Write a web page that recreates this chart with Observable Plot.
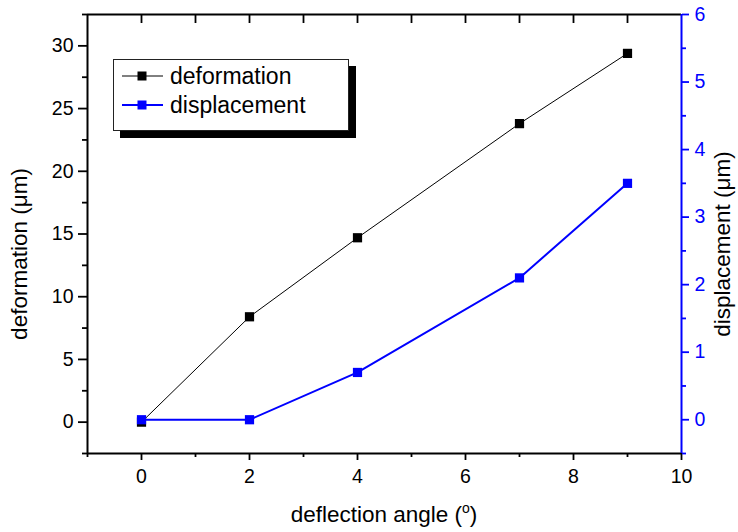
<!DOCTYPE html>
<html><head><meta charset="utf-8">
<script src="https://cdn.jsdelivr.net/npm/d3@7"></script>
<script src="https://cdn.jsdelivr.net/npm/@observablehq/plot@0.6"></script>
<style>
body{margin:0;background:#fff;}
#wrap{position:relative;width:738px;height:532px;}
#wrap svg{position:absolute;left:0;top:0;}
</style></head><body><div id="wrap"></div>
<script>
const angles = [0, 2, 4, 7, 9];
const deformation = [0, 8.4, 14.7, 23.8, 29.4];
const displacement = [0, 0, 0.7, 2.1, 3.5];
const xDomain = [-1, 10];
const yLeftDomain = [-2.5, 32.5];
const yRightDomain = [-0.5, 6];
const xTicks = [0, 2, 4, 6, 8, 10];
const xMinorTicks = [-1, 1, 3, 5, 7, 9];
const topTicks = [0, 1, 2, 3, 4, 5, 6, 7, 8, 9];
const leftTicks = [0, 5, 10, 15, 20, 25, 30];
const leftMinorTicks = [-2.5, 2.5, 7.5, 12.5, 17.5, 22.5, 27.5, 32.5];
const rightTicks = [0, 1, 2, 3, 4, 5, 6];
const rightMinorTicks = [-0.5, 0.5, 1.5, 2.5, 3.5, 4.5, 5.5];
const seriesNames = ["deformation", "displacement"];
const xTitle = "deflection angle (";
const yLeftTitle = "deformation (μm)";
const yRightTitle = "displacement (μm)";

const FONT = "Arial, 'Liberation Sans', sans-serif";
const BLUE = "#0000ff";
const W = 738, H = 532, mL = 87, mR = 57, mT = 14, mB = 79;
const innerH = H - mT - mB;
const intFmt = d => String(d);

const defData = angles.map((a, i) => ({angle: a, value: deformation[i]}));
const dispData = angles.map((a, i) => ({angle: a, value: displacement[i]}));

const common = {
  width: W, height: H, marginLeft: mL, marginRight: mR, marginTop: mT, marginBottom: mB,
  style: {fontFamily: FONT, fontSize: "19.5px", background: "transparent", overflow: "visible", color: "black"}
};

const p1 = Plot.plot({
  ...common,
  x: {domain: xDomain},
  y: {domain: yLeftDomain},
  marks: [
    Plot.axisY({ticks: leftTicks, tickSize: 9, tickPadding: 5, tickFormat: intFmt, label: null, strokeWidth: 1.8, fontSize: 19.5}),
    Plot.axisY(leftMinorTicks, {tickSize: 5, tickFormat: () => "", label: null, strokeWidth: 1.8}),
    Plot.axisX({ticks: xTicks, tickSize: 7, tickPadding: 9, tickFormat: intFmt, label: null, strokeWidth: 1.8, fontSize: 19.5}),
    Plot.axisX(xMinorTicks, {tickSize: 4, tickFormat: () => "", label: null, strokeWidth: 1.8}),
    Plot.ruleX(topTicks, {insetBottom: innerH - 9, strokeWidth: 1.8}),
    Plot.ruleX([xDomain[0]], {strokeWidth: 2}),
    Plot.ruleY([yLeftDomain[0]], {strokeWidth: 2}),
    Plot.ruleY([yLeftDomain[1]], {strokeWidth: 2}),
    Plot.line(defData, {x: "angle", y: "value", stroke: "black", strokeWidth: 1}),
    Plot.dot(defData, {x: "angle", y: "value", symbol: "square", r: 5.2, fill: "black", stroke: "none"})
  ]
});

const p2 = Plot.plot({
  ...common,
  x: {domain: xDomain, axis: null},
  y: {domain: yRightDomain},
  marks: [
    Plot.axisY({anchor: "right", ticks: rightTicks, tickSize: 7, tickPadding: 6, tickFormat: intFmt, label: null, stroke: BLUE, fill: BLUE, strokeWidth: 1.8, fontSize: 19.5}),
    Plot.axisY(rightMinorTicks, {anchor: "right", tickSize: 4, tickFormat: () => "", label: null, stroke: BLUE, strokeWidth: 1.8}),
    Plot.ruleX([xDomain[1]], {stroke: BLUE, strokeWidth: 2}),
    Plot.line(dispData, {x: "angle", y: "value", stroke: BLUE, strokeWidth: 2}),
    Plot.dot(dispData, {x: "angle", y: "value", symbol: "square", r: 5.2, fill: BLUE, stroke: "none"})
  ]
});

const wrap = document.getElementById("wrap");
wrap.appendChild(p1);
wrap.appendChild(p2);

// titles and legend
const svg = d3.select(p2);
const xt = svg.append("text").attr("x", (mL + W - mR) / 2).attr("y", 522)
  .attr("text-anchor", "middle").attr("font-size", 22.5).attr("font-family", FONT).attr("fill", "black");
xt.append("tspan").text(xTitle);
xt.append("tspan").attr("font-size", 14).attr("dy", -9).text("o");
xt.append("tspan").attr("dy", 9).text(")");

svg.append("text").attr("transform", `translate(27,254) rotate(-90)`)
  .attr("text-anchor", "middle").attr("font-size", 22.5).attr("font-family", FONT).attr("fill", "black").text(yLeftTitle);
svg.append("text").attr("transform", `translate(730,244) rotate(-90)`)
  .attr("text-anchor", "middle").attr("font-size", 22.5).attr("font-family", FONT).attr("fill", "black").text(yRightTitle);

const lg = svg.append("g");
lg.append("rect").attr("x", 120).attr("y", 66).attr("width", 236).attr("height", 72).attr("fill", "black");
lg.append("rect").attr("x", 113.5).attr("y", 59.5).attr("width", 235).attr("height", 71).attr("fill", "white").attr("stroke", "#222").attr("stroke-width", 1);
const rows = [{name: seriesNames[0], color: "black", w: 1, y: 76}, {name: seriesNames[1], color: BLUE, w: 2, y: 105}];
rows.forEach(r => {
  lg.append("line").attr("x1", 122).attr("x2", 163).attr("y1", r.y).attr("y2", r.y).attr("stroke", r.color).attr("stroke-width", r.w);
  lg.append("rect").attr("x", 137.5).attr("y", r.y - 4.5).attr("width", 9).attr("height", 9).attr("fill", r.color);
  lg.append("text").attr("x", 170).attr("y", r.y + 8).attr("text-anchor", "start").attr("font-size", 23).attr("font-family", FONT).attr("fill", "black").text(r.name);
});
</script></body></html>
